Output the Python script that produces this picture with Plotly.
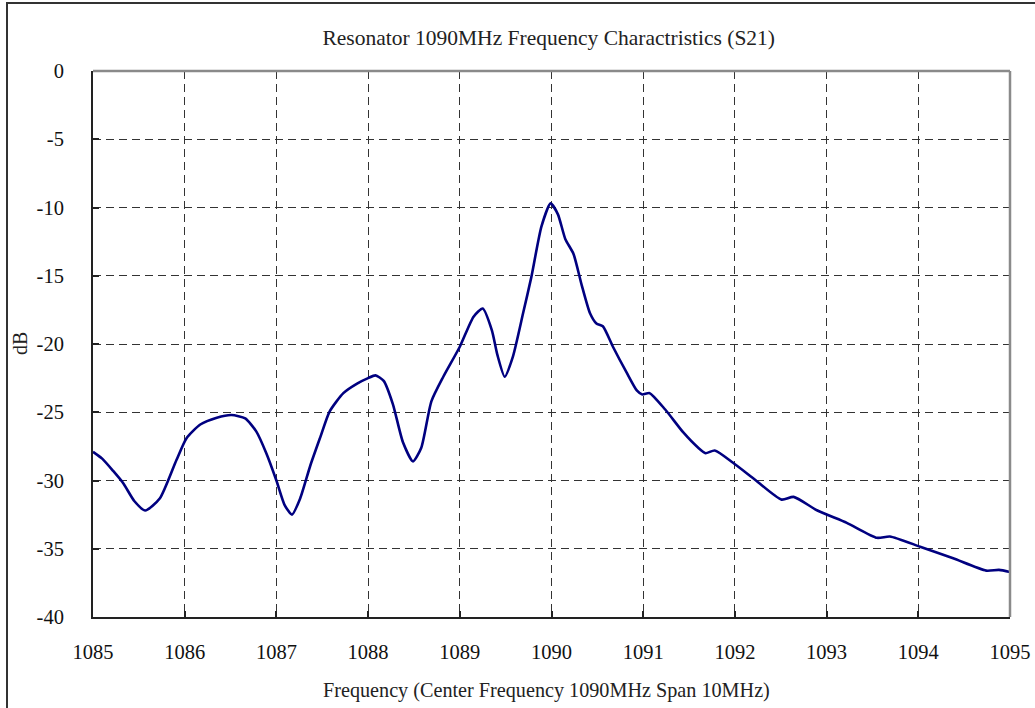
import plotly.graph_objects as go

freq_mhz = [1085.00, 1085.10, 1085.22, 1085.33, 1085.45, 1085.57, 1085.73, 1085.91, 1086.02, 1086.17, 1086.35,
            1086.51, 1086.66, 1086.78, 1086.89, 1087.00, 1087.09, 1087.17, 1087.26, 1087.37, 1087.48,
            1087.58, 1087.73, 1087.88, 1088.00, 1088.08, 1088.17, 1088.27, 1088.38, 1088.49, 1088.58,
            1088.69, 1088.82, 1089.00, 1089.15, 1089.25, 1089.35, 1089.41, 1089.49, 1089.58, 1089.69,
            1089.78, 1089.89, 1089.99, 1090.07, 1090.15, 1090.24, 1090.33, 1090.42, 1090.49, 1090.56,
            1090.67, 1090.82, 1090.93, 1090.99, 1091.07, 1091.24, 1091.44, 1091.60, 1091.68, 1091.78,
            1091.98, 1092.23, 1092.51, 1092.64, 1092.90, 1093.22, 1093.55, 1093.69, 1094.02, 1094.38,
            1094.74, 1094.88, 1095.00]
s21_db = [-27.9, -28.4, -29.3, -30.2, -31.5, -32.2, -31.3, -28.5, -26.9, -25.9, -25.4,
          -25.2, -25.45, -26.4, -28.0, -30.0, -31.8, -32.5, -31.3, -28.9, -26.8,
          -24.95, -23.6, -22.9, -22.5, -22.3, -22.7, -24.4, -27.2, -28.6, -27.6,
          -24.2, -22.4, -20.2, -18.0, -17.4, -19.0, -20.8, -22.4, -20.9, -17.75,
          -15.1, -11.4, -9.7, -10.5, -12.3, -13.4, -15.7, -17.75, -18.5, -18.7,
          -20.2, -22.1, -23.4, -23.7, -23.6, -24.8, -26.5, -27.6, -28.0, -27.8,
          -28.7, -30.0, -31.4, -31.2, -32.2, -33.1, -34.2, -34.1, -34.85, -35.7,
          -36.6, -36.55, -36.7]

x_ticks = [1085, 1086, 1087, 1088, 1089, 1090, 1091, 1092, 1093, 1094, 1095]
y_ticks = [0, -5, -10, -15, -20, -25, -30, -35, -40]

FONT = "Liberation Serif"

fig = go.Figure()
fig.add_trace(go.Scatter(
    x=freq_mhz, y=s21_db, mode="lines",
    line=dict(color="#000080", width=2.6, shape="spline", smoothing=0.6),
    hoverinfo="x+y", showlegend=False,
))

fig.update_layout(
    width=1035, height=708,
    margin=dict(l=93, r=25, t=71, b=91),
    paper_bgcolor="white", plot_bgcolor="white",
    font=dict(family=FONT, color="#111", size=20),
    title=dict(text="Resonator 1090MHz Frequency Charactristics (S21)",
               x=0.497, xref="paper", xanchor="center",
               y=1 - 37 / 708, yref="container", yanchor="middle",
               font=dict(family=FONT, size=21.5, color="#222")),
    xaxis=dict(range=[1085, 1095], tickvals=x_ticks, ticktext=[str(v) for v in x_ticks],
               showline=True, linecolor="#222", linewidth=2,
               ticks="inside", ticklen=6, tickcolor="#222", tickwidth=1.5,
               showgrid=True, gridcolor="#333", gridwidth=1, griddash="8px,5px",
               zeroline=False, ticklabelstandoff=15, automargin=False,
               tickfont=dict(family=FONT, size=20.5, color="#111")),
    yaxis=dict(range=[-40, 0], tickvals=y_ticks, ticktext=[str(v) for v in y_ticks],
               showline=True, linecolor="#222", linewidth=2,
               ticks="inside", ticklen=6, tickcolor="#222", tickwidth=1.5,
               showgrid=True, gridcolor="#333", gridwidth=1, griddash="8px,5px",
               zeroline=False, ticklabelstandoff=23, automargin=False,
               tickfont=dict(family=FONT, size=20.5, color="#111")),
)

# gray top and right frame of plot area
fig.add_shape(type="line", xref="paper", yref="paper", x0=0, x1=1, y0=1, y1=1,
              line=dict(color="#8a8a8a", width=2.5))
fig.add_shape(type="line", xref="paper", yref="paper", x0=1, x1=1, y0=0, y1=1,
              line=dict(color="#8a8a8a", width=2.5))
# outer chart frame
fig.add_shape(type="rect", xref="paper", yref="paper",
              x0=(7 - 93) / 917, x1=1.2, y0=(617 - 3) / 546, y1=-0.3,
              line=dict(color="#333", width=2), layer="below")

fig.add_annotation(text="dB", xref="paper", yref="paper",
                   x=(20 - 93) / 917, y=(617 - 344) / 546, textangle=-90,
                   showarrow=False, xanchor="center", yanchor="middle",
                   font=dict(family=FONT, size=20, color="#222"))
fig.add_annotation(text="Frequency (Center Frequency 1090MHz Span 10MHz)", xref="paper", yref="paper",
                   x=(546 - 93) / 917, y=(617 - 690) / 546,
                   showarrow=False, xanchor="center", yanchor="middle",
                   font=dict(family=FONT, size=20.2, color="#222"))

fig.write_html("out.html", config={"displayModeBar": False},
               post_script="document.body.style.margin='0';")
